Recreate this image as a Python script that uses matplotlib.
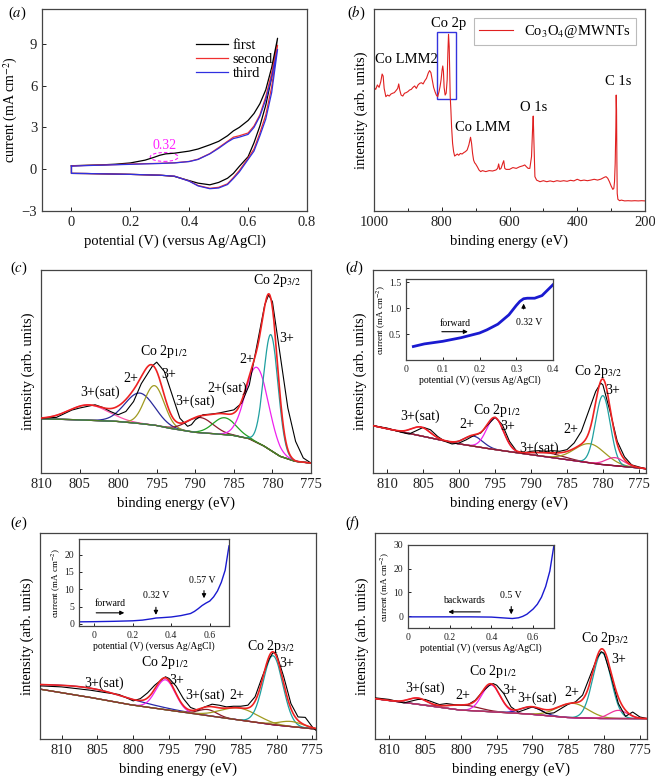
import numpy as np
import matplotlib
matplotlib.use('Agg')
import matplotlib.pyplot as plt
from matplotlib.patches import Ellipse, Rectangle
from matplotlib.ticker import MultipleLocator

plt.rcParams['font.family'] = 'serif'
plt.rcParams['font.serif'] = ['Liberation Serif', 'DejaVu Serif']
plt.rcParams['mathtext.fontset'] = 'stix'
plt.rcParams['font.size'] = 10

# ---------------- (a) cyclic voltammetry ----------------
cv_potential = [0.0, 0.05, 0.1, 0.15, 0.2, 0.25, 0.28, 0.3, 0.32, 0.35, 0.4, 0.43, 0.47,
                0.5, 0.53, 0.55, 0.57, 0.6, 0.62, 0.64, 0.66, 0.68, 0.7]
first_fwd = [0.25, 0.28, 0.31, 0.36, 0.45, 0.65, 0.85, 1.0, 1.1, 1.15, 1.3, 1.45, 1.75,
             2.0, 2.4, 2.75, 3.0, 3.5, 4.0, 4.7, 5.7, 7.3, 9.4]
first_bwd = [-0.3, -0.31, -0.33, -0.35, -0.37, -0.4, -0.42, -0.43, -0.46, -0.52, -0.82, -1.0, -1.12,
             -0.95, -0.65, -0.3, 0.2, 0.9, 1.9, 3.1, 4.6, 6.6, 9.4]
second_fwd = [0.24, 0.27, 0.3, 0.33, 0.37, 0.4, 0.41, 0.42, 0.44, 0.46, 0.56, 0.72, 1.12,
              1.55, 2.0, 2.3, 2.4, 2.6, 3.1, 3.9, 5.2, 6.9, 8.9]
second_bwd = [-0.3, -0.31, -0.33, -0.35, -0.37, -0.4, -0.42, -0.43, -0.46, -0.5, -0.85, -1.17, -1.37,
              -1.3, -1.05, -0.6, -0.1, 0.8, 1.45, 2.6, 3.9, 5.9, 8.9]
third_fwd = [0.22, 0.26, 0.29, 0.32, 0.35, 0.38, 0.4, 0.41, 0.43, 0.45, 0.55, 0.7, 1.1,
             1.5, 1.95, 2.2, 2.3, 2.5, 3.0, 3.8, 5.0, 6.6, 8.6]
third_bwd = [-0.3, -0.31, -0.33, -0.35, -0.37, -0.4, -0.42, -0.43, -0.46, -0.5, -0.86, -1.2, -1.4,
             -1.35, -1.1, -0.67, -0.2, 0.7, 1.3, 2.4, 3.6, 5.5, 8.6]
cv_names = ['first', 'second', 'third']

# ---------------- (b) survey spectrum ----------------
survey_energy = [1000, 995, 990, 985, 980, 976, 973, 970, 965, 960, 955, 950, 945, 940, 935, 930, 927,
                 924, 920, 915, 910, 905, 900, 895, 890, 885, 880, 875, 870, 865, 860, 855, 850, 845,
                 840, 836, 832, 828, 824, 820, 816, 812, 808, 805, 802, 799, 797, 795, 793, 790, 787,
                 784, 782, 780, 778, 776, 775, 773, 771, 768, 765, 762, 758, 754, 750, 745, 740, 735,
                 730, 725, 720, 717, 715, 712, 709, 706, 703, 700, 695, 690, 685, 680, 670, 660, 650,
                 640, 635, 632, 629, 625, 620, 617, 614, 610, 600, 590, 580, 570, 560, 555, 550, 545,
                 540, 535, 532, 530, 528, 525, 520, 510, 500, 490, 480, 470, 460, 450, 440, 430, 420,
                 410, 400, 390, 380, 370, 360, 350, 340, 330, 320, 315, 310, 305, 300, 295, 292, 290,
                 288, 286, 285, 284, 283, 282, 280, 275, 270, 260, 250, 240, 230, 220, 210, 200]
survey_counts = [61.2, 60.2, 62.4, 61.2, 64.0, 67.8, 66.8, 60.7, 56.6, 57.4, 56.9, 57.9, 58.3, 58.6,
                 59.6, 60.7, 62.9, 59.9, 57.4, 56.9, 58.3, 58.6, 59.1, 59.9, 60.2, 61.2, 61.9, 60.7,
                 62.4, 63.2, 63.5, 62.9, 64.5, 65.7, 68.2, 69.5, 68.5, 64.9, 61.2, 59.1, 57.4, 56.6,
                 59.1, 61.6, 64.9, 69.8, 71.8, 69.0, 61.2, 57.4, 58.3, 64.9, 78.0, 87.5, 81.4, 64.9,
                 56.6, 50.0, 41.7, 33.5, 29.4, 27.2, 27.7, 28.2, 27.6, 28.5, 28.2, 28.9, 29.4, 30.2,
                 32.7, 35.1, 36.5, 33.5, 28.5, 25.2, 23.9, 23.3, 21.9, 20.3, 19.5, 20.0, 19.5, 20.0,
                 19.8, 20.3, 21.1, 23.3, 20.6, 21.1, 23.6, 24.9, 21.1, 20.6, 20.6, 21.5, 21.1, 21.9,
                 22.4, 22.8, 21.9, 21.1, 21.1, 26.9, 40.1, 47.0, 35.1, 17.0, 15.3, 14.5, 15.0, 14.5,
                 14.9, 14.5, 15.0, 14.7, 15.0, 14.7, 15.2, 14.9, 15.7, 15.0, 15.3, 15.0, 15.3, 15.7,
                 15.3, 15.8, 16.7, 17.0, 16.2, 14.5, 12.4, 10.7, 11.2, 14.5, 23.6, 41.7, 57.4, 50.0,
                 25.2, 8.7, 5.8, 5.1, 5.4, 5.0, 5.1, 5.0, 5.1, 5.0, 5.1, 5.0]
survey_name = 'Co$_3$O$_4$@MWNTs'
survey_peaks = ['Co 2p', 'Co LMM2', 'Co LMM', 'O 1s', 'C 1s']

# ---------------- (c) Co 2p, pristine ----------------
c_energy = [810, 808, 806, 805, 804, 803, 802, 801, 800, 799, 798, 797, 796, 795.5, 795, 794, 793, 792,
            791, 790.5, 790, 789, 788, 787, 786, 785, 784, 783, 782, 781, 780.5, 780, 779, 778, 777, 776, 775]
c_counts = [27, 27.4, 31, 32, 32.8, 33.6, 32.3, 30.3, 28.7, 30.3, 35.2, 44.0, 50, 53, 54.6, 50, 38.5, 27,
            23, 23.8, 26.2, 28.7, 29, 29.5, 30.3, 31.1, 34.4, 43.4, 63.1, 82.8, 87.7, 84.4, 58.2, 32, 15.6, 7.4, 4.9]
c_bg_energy = [810, 805, 800, 797, 795, 793, 790, 787, 785, 783, 781, 779, 777, 775]
c_bg_counts = [26.7, 26.2, 25.4, 24.3, 23.4, 21.8, 20.0, 19.2, 18.5, 16.9, 13.1, 8.2, 5.7, 4.9]
c_centers = [803.8, 797.2, 795.3, 789.4, 786.2, 782.0, 780.2]
c_heights = [7.5, 15.0, 19.5, 7.5, 8.3, 37.0, 57.0]
c_fwhm = [6.0, 4.5, 3.0, 4.0, 3.5, 3.5, 2.2]
c_texts = ['Co 2p$_{3/2}$', '3+', '2+', '2+(sat)', '3+(sat)', 'Co 2p$_{1/2}$', '3+', '2+', '3+(sat)']

# ---------------- (d) Co 2p at 0.32 V ----------------
d_energy = [812, 810, 808, 807, 806, 805, 804, 803, 802, 801, 800, 799, 798, 797, 796, 795, 794, 793, 792,
            791, 790, 789, 788, 787, 786, 785, 784, 783, 782, 781, 780.3, 780, 779, 778, 777, 776, 775, 774]
d_counts = [23.3, 22.1, 20, 19.2, 20.8, 22.5, 21.3, 18, 15.6, 14.3, 14.8, 16.4, 18.4, 19.7, 23.8, 27.5,
            23.8, 15.6, 10.7, 9.8, 10.7, 11, 10.7, 11, 10.7, 11.5, 14.8, 20.5, 30.3, 40.2, 44.3, 43.4,
            30.3, 15.6, 8.0, 4.0, 3.0, 2.0]
d_bg_energy = [812, 805, 800, 795, 790, 785, 780, 775, 774]
d_bg_counts = [23.3, 18.0, 14.3, 11.5, 9.0, 6.6, 4.1, 2.5, 2.1]
d_centers = [805.3, 798.0, 795.0, 787.5, 781.8, 780.0, 778.3]
d_heights = [4.4, 5.0, 15.5, 2.0, 9.4, 34.0, 4.0]
d_fwhm = [3.0, 3.0, 2.8, 5.0, 5.0, 2.4, 3.0]
d_texts = ['Co 2p$_{3/2}$', '3+', 'Co 2p$_{1/2}$', '3+', '2+', '3+(sat)', '3+(sat)', '2+']
d_inset_potential = [0.02, 0.05, 0.1, 0.15, 0.2, 0.22, 0.25, 0.28, 0.3, 0.31, 0.32, 0.33, 0.35, 0.37, 0.4]
d_inset_current = [0.26, 0.31, 0.36, 0.43, 0.52, 0.58, 0.69, 0.87, 1.05, 1.13, 1.18, 1.19, 1.19, 1.24, 1.45]

# ---------------- (e) Co 2p at 0.57 V ----------------
e_energy = [813, 810, 808, 806, 804, 802, 801, 800, 799, 798, 797, 796, 795.5, 795, 794, 793, 792, 791, 790,
            789, 788, 787, 786, 785, 784, 783, 782, 781, 780.5, 780, 779, 778, 777, 776, 775, 774.5]
e_counts = [25.8, 25.3, 24.5, 23.7, 22.6, 21.6, 20.1, 18.5, 19.6, 22.4, 26.1, 28.9, 30.2, 29.4, 25.6, 19.6,
            15.3, 14.0, 15.6, 16.9, 16.4, 15.6, 15.9, 15.9, 16.4, 20.5, 30.2, 39.1, 41.9, 41.2, 30.2, 17.2,
            10.7, 10.5, 5.8, 4.2]
e_bg_energy = [813, 805, 800, 795, 790, 785, 780, 775, 774.5]
e_bg_counts = [24.2, 19.6, 16.4, 14.0, 11.5, 9.1, 6.7, 5.0, 4.8]
e_centers = [806.0, 795.5, 789.6, 785.2, 780.5, 778.0]
e_heights = [4.5, 14.5, 3.0, 5.8, 33.5, 2.5]
e_fwhm = [14.0, 3.2, 3.0, 6.0, 3.2, 4.0]
e_texts = ['Co 2p$_{3/2}$', '3+', 'Co 2p$_{1/2}$', '3+', '3+(sat)', '2+', '3+(sat)']
e_inset_potential = [-0.08, 0.0, 0.1, 0.2, 0.25, 0.3, 0.32, 0.35, 0.4, 0.45, 0.5, 0.52, 0.54, 0.56, 0.58,
                     0.6, 0.62, 0.64, 0.66, 0.68, 0.7]
e_inset_current = [0.6, 0.65, 0.75, 0.9, 1.1, 1.5, 1.7, 1.8, 2.0, 2.4, 3.0, 3.6, 4.4, 5.3, 6.0, 6.6, 7.8,
                   9.5, 12.0, 15.5, 22.5]

# ---------------- (f) Co 2p at 0.5 V (backwards) ----------------
f_energy = [812, 810, 808, 806, 805, 804, 803, 802, 801, 800, 799, 798, 797, 796, 795.5, 795, 794, 793, 792,
            791, 790, 789, 788, 787, 786, 785, 784, 783, 782, 781, 780.4, 780, 779, 778, 777, 776, 775, 774]
f_counts = [20, 19.2, 17.5, 19.2, 19.2, 18, 16.7, 17.2, 16.7, 16.4, 16.7, 18.8, 22.9, 26.1, 26.9, 26.1, 22,
            15.6, 13.1, 14.3, 15.6, 14.3, 12.3, 12.7, 14.8, 16.9, 18, 21.3, 30.2, 39.1, 42.4, 41.6, 30.2,
            17.2, 11.0, 13.1, 10.7, 9.9]
f_bg_energy = [812, 805, 800, 795, 790, 785, 780, 774]
f_bg_counts = [19.6, 16.4, 14.0, 13.1, 12.0, 10.4, 9.9, 9.9]
f_centers = [806.0, 799.5, 795.8, 790.2, 784.4, 780.3, 778.0]
f_heights = [3.0, 2.5, 13.0, 3.5, 7.0, 32.0, 4.0]
f_fwhm = [3.0, 5.0, 3.0, 3.5, 5.0, 3.0, 3.0]
f_texts = ['Co 2p$_{3/2}$', '3+', 'Co 2p$_{1/2}$', '3+', '3+(sat)', '2+', '2+', '3+(sat)']
f_inset_potential = [0.0, 0.1, 0.2, 0.3, 0.4, 0.45, 0.5, 0.53, 0.55, 0.57, 0.6, 0.62, 0.64, 0.66, 0.68, 0.7]
f_inset_current = [-0.3, -0.3, -0.3, -0.3, -0.4, -0.7, -1.0, -0.7, -0.1, 0.8, 3.0, 5.0, 8.0, 12.5, 19.0, 30.0]

# ======================= drawing =======================
W, H = 655, 777
fig = plt.figure(figsize=(W / 100, H / 100), dpi=100)


def box(l, t, r, b):
    return [l / W, (H - b) / H, (r - l) / W, (b - t) / H]


SPINE = '#444444'
FS = 10.5


def style(ax, size=FS):
    for s in ax.spines.values():
        s.set_color(SPINE)
        s.set_linewidth(0.9)
    ax.tick_params(direction='in', labelsize=size, length=3, width=0.7, colors='#222222',
                   top=False, right=False)


# ---- (a)
ax = fig.add_axes(box(42, 9, 307, 211))
style(ax)
cv_colors = ['black', '#f03030', '#3030e0']
for fwd, bwd, name, col in zip([first_fwd, second_fwd, third_fwd], [first_bwd, second_bwd, third_bwd],
                               cv_names, cv_colors):
    x = list(cv_potential) + list(cv_potential[::-1]) + [cv_potential[0]]
    y = list(fwd) + list(bwd[::-1]) + [fwd[0]]
    ax.plot(x, y, color=col, lw=0.9, label=name)
ax.add_patch(Ellipse((0.315, 0.88), 0.095, 0.64, fill=False, ls=(0, (3, 2)), color='#ff22ff', lw=0.8))
ax.text(0.315, 1.25, '0.32', color='#ff22ff', ha='center', va='bottom', fontsize=10)
ax.set_xlim(-0.1, 0.8)
ax.set_ylim(-3, 11.5)
ax.yaxis.set_major_locator(MultipleLocator(3))
ax.set_xticks([0, 0.2, 0.4, 0.6, 0.8])
ax.set_xticklabels(['0', '0.2', '0.4', '0.6', '0.8'])
ax.set_xlabel('potential (V) (versus Ag/AgCl)', fontsize=FS)
ax.set_ylabel('current (mA cm$^{-2}$)', fontsize=10, labelpad=1)
ax.legend(loc='upper left', bbox_to_anchor=(0.56, 0.88), frameon=False, handlelength=2.2,
          labelspacing=0.05, handletextpad=0.3, fontsize=FS, borderaxespad=0)

# ---- (b)
ax = fig.add_axes(box(374, 9, 645, 211))
style(ax)
ax.plot(survey_energy, survey_counts, color='#e02020', lw=0.8, label=survey_name)
ax.set_xlim(1000, 200)
ax.set_ylim(0, 100)
ax.set_yticks([])
ax.xaxis.set_major_locator(MultipleLocator(200))
ax.xaxis.set_minor_locator(MultipleLocator(100))
ax.tick_params(which='minor', direction='in', length=2)
ax.add_patch(Rectangle((813, 55.6), -54.5, 32.8, fill=False, edgecolor='#3333dd', lw=1.0))
b_pos = [(779, 93), (903, 74.8), (678, 41.3), (530, 51.3), (279, 64)]
for t, (px, py) in zip(survey_peaks, b_pos):
    ax.text(px, py, t, ha='center', va='center', fontsize=10.5)
ax.set_xlabel('binding energy (eV)', fontsize=FS)
ax.set_ylabel('intensity (arb. units)', fontsize=FS)
leg = ax.legend(loc='upper right', fancybox=False, edgecolor='#aaaaaa', fontsize=10.5,
                handlelength=2.3, borderaxespad=0.6, borderpad=0.35)
leg.get_frame().set_linewidth(0.8)


# ---- XPS helper
def gauss(x, c, h, w):
    return h * np.exp(-4 * np.log(2) * (x - c) ** 2 / w ** 2)


def xps(rect, xlim, energy, counts, bg_e, bg_c, centers, heights, fwhm, colors, bg_color,
        texts, text_pos):
    ax = fig.add_axes(rect)
    style(ax)
    x = np.linspace(xlim[1], xlim[0], 700)
    bg = np.interp(x, bg_e[::-1], bg_c[::-1])
    total = bg.copy()
    for c, h, w, col in zip(centers, heights, fwhm, colors):
        g = gauss(x, c, h, w)
        total += g
        ax.plot(x, bg + g, color=col, lw=0.9, zorder=2)
    ax.plot(x, bg, color=bg_color, lw=0.9, zorder=2)
    ax.plot(energy, counts, color='black', lw=0.8, zorder=3)
    ax.plot(x, total, color='#ee2222', lw=1.2, zorder=4)
    ax.set_xlim(*xlim)
    ax.set_ylim(0, 100)
    ax.set_yticks([])
    ax.xaxis.set_major_locator(MultipleLocator(5))
    ax.set_xlabel('binding energy (eV)', fontsize=FS)
    ax.set_ylabel('intensity (arb. units)', fontsize=FS)
    for t, (px, py) in zip(texts, text_pos):
        ax.text(px, py, t, ha='center', va='center', fontsize=10, zorder=6)
    return ax


def inset(rect, xlim, ylim, xs, ys, lw, xmaj, ymaj):
    ax = fig.add_axes(rect)
    style(ax, size=7)
    ax.tick_params(length=2)
    ax.plot(xs, ys, color='#1a1ad0', lw=lw)
    ax.set_xlim(*xlim)
    ax.set_ylim(*ylim)
    ax.xaxis.set_major_locator(MultipleLocator(xmaj))
    ax.yaxis.set_major_locator(MultipleLocator(ymaj))
    ax.set_xlabel('potential (V) (versus Ag/AgCl)', fontsize=7, labelpad=1)
    ax.set_ylabel('current (mA cm$^{-2}$)', fontsize=6.5, labelpad=1)
    return ax


arrow = dict(arrowstyle='-|>', color='black', lw=0.8, mutation_scale=6)

# ---- (c)
xps(box(41, 270, 311, 473), (810, 775), c_energy, c_counts, c_bg_energy, c_bg_counts,
    c_centers, c_heights, c_fwhm,
    ['#ff55aa', '#2a2a9a', '#a09a20', '#8b1a2a', '#22a022', '#ee22ee', '#1fa0a0'], '#4d7a2a',
    c_texts, [(779.4, 95), (778.1, 66.4), (783.3, 55.7), (785.8, 41.8), (790, 35.2),
              (794.1, 59.8), (793.5, 48.7), (798.4, 46.4), (802.3, 39.8)])

# ---- (d)
xps(box(373, 270, 646, 473), (812, 774), d_energy, d_counts, d_bg_energy, d_bg_counts,
    d_centers, d_heights, d_fwhm,
    ['#ee3399', '#2a2a9a', '#ee22ee', '#8b1a2a', '#a09a20', '#1fa0a0', '#ee3399'], '#8b1a2a',
    d_texts, [(780.7, 50.0), (778.7, 40.5), (794.8, 31.0), (793.2, 23.0), (798.9, 23.8),
              (805.4, 27.9), (788.9, 12.3), (784.4, 21.3)])
ia = inset(box(406, 279, 553, 360), (0, 0.4), (0, 1.56), d_inset_potential, d_inset_current, 2.0, 0.1, 0.5)
ia.set_xticks([0, 0.1, 0.2, 0.3, 0.4])
ia.set_xticklabels(['0', '0.1', '0.2', '0.3', '0.4'])
ia.set_yticks([0.5, 1.0, 1.5])
ia.text(0.133, 0.71, 'forward', ha='center', va='center', fontsize=7)
ia.annotate('', xy=(0.176, 0.545), xytext=(0.09, 0.545), arrowprops=arrow)
ia.text(0.335, 0.73, '0.32 V', ha='center', va='center', fontsize=7)
ia.annotate('', xy=(0.32, 1.14), xytext=(0.32, 0.93), arrowprops=arrow)

# ---- (e)
xps(box(40, 533, 316, 739), (813, 774.5), e_energy, e_counts, e_bg_energy, e_bg_counts,
    e_centers, e_heights, e_fwhm,
    ['#2a2aaa', '#ee22ee', '#8b1a2a', '#a09a20', '#1fa0a0', '#a09a20'], '#8b3030',
    e_texts, [(780.8, 45.0), (778.6, 36.5), (795.6, 37.0), (794.0, 28.5), (790, 21.3),
              (785.5, 21.3), (804.1, 27)])
ib = inset(box(79, 539, 229, 626), (-0.08, 0.7), (-0.6, 24.5), e_inset_potential, e_inset_current,
           1.0, 0.2, 5)
ib.set_xticks([0, 0.2, 0.4, 0.6])
ib.set_xticklabels(['0', '0.2', '0.4', '0.6'])
ib.text(0.08, 5.9, 'forward', ha='center', va='center', fontsize=7)
ib.annotate('', xy=(0.17, 3.2), xytext=(-0.005, 3.2), arrowprops=arrow)
ib.text(0.32, 8.3, '0.32 V', ha='center', va='center', fontsize=7)
ib.annotate('', xy=(0.32, 1.8), xytext=(0.32, 5.6), arrowprops=arrow)
ib.text(0.56, 12.4, '0.57 V', ha='center', va='center', fontsize=7)
ib.annotate('', xy=(0.57, 6.6), xytext=(0.57, 10.4), arrowprops=arrow)

# ---- (f)
xps(box(375, 533, 647, 739), (812, 774), f_energy, f_counts, f_bg_energy, f_bg_counts,
    f_centers, f_heights, f_fwhm,
    ['#ee3399', '#8b1a2a', '#ee22ee', '#2a2aaa', '#a09a20', '#1fa0a0', '#ee3399'], '#b03060',
    f_texts, [(779.9, 49.0), (777.9, 38.6), (795.5, 33.0), (793.2, 23.7), (789.4, 20.0),
              (784.5, 22.4), (799.7, 21.3), (805.0, 24.5)])
ic = inset(box(408, 545, 554, 628), (0, 0.7), (-5, 30), f_inset_potential, f_inset_current, 1.0, 0.2, 10)
ic.xaxis.set_minor_locator(MultipleLocator(0.1))
ic.tick_params(which='minor', direction='in', length=1.5)
ic.set_xticks([0, 0.2, 0.4, 0.6])
ic.set_xticklabels(['0', '0.2', '0.4', '0.6'])
ic.text(0.27, 6.7, 'backwards', ha='center', va='center', fontsize=7)
ic.annotate('', xy=(0.18, 1.8), xytext=(0.36, 1.8), arrowprops=arrow)
ic.text(0.495, 8.6, '0.5 V', ha='center', va='center', fontsize=7)
ic.annotate('', xy=(0.495, -0.4), xytext=(0.495, 5.2), arrowprops=arrow)

# panel letters
for lab, (px, py) in zip('abcdef', [(8, 13), (347, 13), (10, 268), (345, 268), (10, 523), (345, 523)]):
    fig.text(px / W, 1 - py / H, '(' + '$' + lab + '$' + ')', fontsize=10.5, ha='left', va='center')

fig.savefig('out.png', dpi=100)
